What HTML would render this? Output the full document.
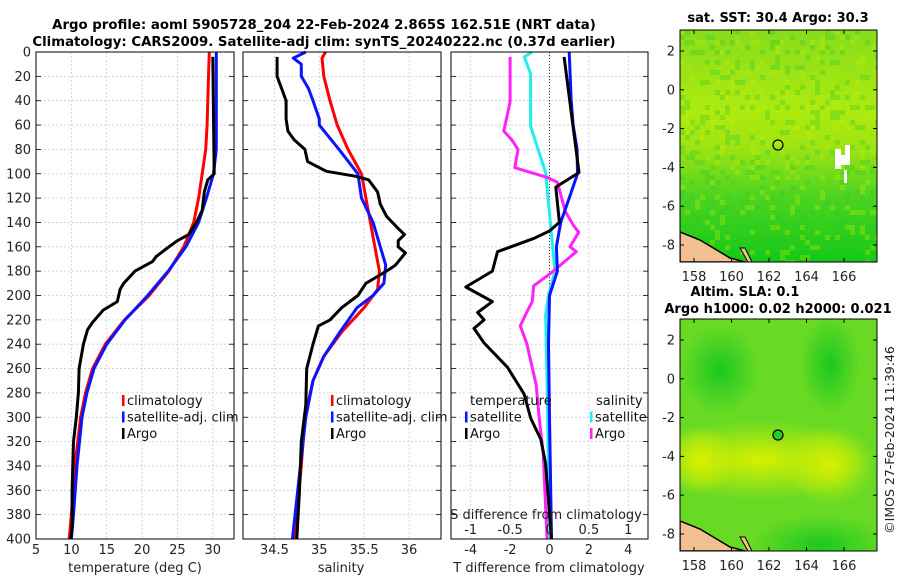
<!DOCTYPE html>
<html><head><meta charset="utf-8"><style>
body{margin:0;background:#fff;width:900px;height:580px;overflow:hidden}
svg{display:block;font-family:"DejaVu Sans","Liberation Sans",sans-serif}
</style></head><body>
<svg id="c" width="900" height="580" viewBox="0 0 900 580">
<defs>
<linearGradient id="sstg" x1="0" y1="0" x2="0" y2="1">
<stop offset="0" stop-color="#86dc1c"/><stop offset="0.35" stop-color="#aeea0e"/><stop offset="0.5" stop-color="#9fe412"/><stop offset="0.72" stop-color="#4cd420"/><stop offset="1" stop-color="#14c818"/></linearGradient>
<radialGradient id="yb"><stop offset="0" stop-color="#d8f000"/><stop offset="1" stop-color="#d8f000" stop-opacity="0"/></radialGradient>
<radialGradient id="gb"><stop offset="0" stop-color="#1cc820"/><stop offset="1" stop-color="#1cc820" stop-opacity="0"/></radialGradient>
<clipPath id="m1c"><rect x="680" y="30" width="197" height="232"/></clipPath>
<clipPath id="m2c"><rect x="680" y="319" width="197" height="232"/></clipPath>
</defs>
<text x="324" y="29" text-anchor="middle" font-size="13.3" font-weight="bold">Argo profile: aoml 5905728_204 22-Feb-2024 2.865S 162.51E (NRT data)</text>
<text x="324" y="46" text-anchor="middle" font-size="13.3" font-weight="bold">Climatology: CARS2009. Satellite-adj clim: synTS_20240222.nc (0.37d earlier)</text>
<g id="plots"></g>
<g>
<text x="778" y="22" text-anchor="middle" font-size="13" font-weight="bold">sat. SST: 30.4 Argo: 30.3</text>
<g clip-path="url(#m1c)">
<rect x="680" y="30" width="197" height="232" fill="url(#sstg)"/>
<g id="m1noise"></g>
<rect x="835" y="149" width="6" height="20" fill="#fff"/><rect x="838" y="155" width="12" height="10" fill="#fff"/><rect x="845" y="145" width="5" height="12" fill="#fff"/><rect x="844" y="170" width="3" height="13" fill="#fff"/>
<path d="M680 232 L700 240 L730 258 L745 262 L680 262Z" fill="#f2c090" stroke="#000" stroke-width="1.5"/>
<path d="M740 248 L748 262 L752 262 L745 248Z" fill="#f2c090" stroke="#000" stroke-width="1"/>
</g>
<rect x="680" y="30" width="197" height="232" fill="none" stroke="#000" stroke-width="1"/>
<circle cx="778" cy="145" r="5" fill="none" stroke="#000" stroke-width="1.2"/>
<g id="m1ax"></g>
</g>
<g>
<text x="745" y="296" text-anchor="middle" font-size="13" font-weight="bold">Altim. SLA: 0.1</text>
<text x="778" y="313" text-anchor="middle" font-size="13" font-weight="bold">Argo h1000: 0.02 h2000: 0.021</text>
<g clip-path="url(#m2c)">
<rect x="680" y="319" width="197" height="232" fill="#68da24"/>
<ellipse cx="760" cy="460" rx="110" ry="40" fill="url(#yb)"/>
<ellipse cx="830" cy="465" rx="45" ry="40" fill="url(#yb)"/>
<ellipse cx="700" cy="460" rx="35" ry="35" fill="url(#yb)"/>
<ellipse cx="720" cy="370" rx="40" ry="45" fill="url(#gb)"/>
<ellipse cx="830" cy="365" rx="30" ry="50" fill="url(#gb)"/>
<ellipse cx="820" cy="545" rx="70" ry="30" fill="url(#gb)"/>
<path d="M680 521 L700 529 L730 547 L745 551 L680 551Z" fill="#f2c090" stroke="#000" stroke-width="1.5"/>
<path d="M740 537 L748 551 L752 551 L745 537Z" fill="#f2c090" stroke="#000" stroke-width="1"/>
</g>
<rect x="680" y="319" width="197" height="232" fill="none" stroke="#000" stroke-width="1"/>
<circle cx="778" cy="435" r="5" fill="#2ccc20" stroke="#000" stroke-width="1.2"/>
<g id="m2ax"></g>
</g>
<text transform="translate(894,440) rotate(-90)" text-anchor="middle" font-size="12.5" fill="#222">©IMOS 27-Feb-2024 11:39:46</text>
</svg>
<script>
// ---------- data ----------
const tClimDepth=[0,20,60,80,100,120,140,160,180,200,220,240,260,280,300,340,380,400];
const tClimVal=[29.5,29.4,29.2,29,28.5,28,27.3,25.9,23.8,21,17.5,14.8,13,12,11.3,10.5,10,9.7];
const tSatDepth=[0,40,80,100,120,140,160,180,200,220,240,260,280,300,340,380,400];
const tSatVal=[30.5,30.5,30.5,30.1,29.1,28,26.2,23.7,20.8,17.6,15,13.2,12.2,11.5,10.8,10.3,10];
const tArgoDepth=[4,100,105,115,130,140,150,155,160,168,172,180,190,195,205,212,222,228,240,260,280,300,320,360,390,400];
const tArgoVal=[30,30.2,29.3,28.8,28.5,27.7,26.6,25,23.8,22,21.5,19,17.4,16.9,16.5,14.5,13,12.3,11.7,11.1,11,10.7,10.3,10.1,10.1,9.9];
const sClimDepth=[0,5,20,40,60,80,100,120,140,160,180,195,210,230,250,270,300,340,380,400];
const sClimVal=[35.07,35.03,35.05,35.12,35.2,35.32,35.47,35.52,35.57,35.62,35.67,35.65,35.5,35.25,35.05,34.93,34.84,34.8,34.75,34.72];
const sSatDepth=[0,5,10,20,30,40,55,60,80,100,120,140,160,175,190,200,210,230,250,270,300,340,400];
const sSatVal=[34.85,34.71,34.8,34.8,34.88,34.93,35.0,35.0,35.22,35.43,35.47,35.6,35.68,35.74,35.72,35.6,35.42,35.23,35.05,34.93,34.85,34.79,34.7];
const sArgoDepth=[4,20,30,40,55,65,72,80,90,95,98,102,105,115,125,135,145,150,155,160,165,175,180,190,200,210,220,225,240,260,290,320,360,400];
const sArgoVal=[34.53,34.53,34.58,34.63,34.63,34.65,34.72,34.84,34.87,35.0,35.08,35.4,35.55,35.65,35.68,35.75,35.88,35.95,35.88,35.88,35.96,35.85,35.75,35.52,35.43,35.25,35.12,34.99,34.93,34.86,34.85,34.8,34.78,34.75];
const dTSatDepth=[0,40,60,80,100,120,140,160,180,200,240,300,400];
const dTSatVal=[1.0,1.1,1.2,1.4,1.42,1.0,0.57,0.35,0.4,0.0,-0.05,0.0,0.1];
const dTArgoDepth=[4,99,111,140,147,153,164,180,193,205,214,220,227,239,259,281,301,318,338,400];
const dTArgoVal=[0.74,1.5,0.32,0.5,0.0,-0.78,-2.64,-2.9,-4.25,-2.9,-3.65,-3.32,-3.83,-3.32,-2.13,-1.29,-0.95,-0.44,-0.2,0.1];
const dSSatDepth=[0,4,18,61,99,140,180,199,216,273,400];
const dSSatVal=[-0.22,-0.32,-0.24,-0.24,-0.05,0.01,0.07,-0.01,-0.05,-0.03,0];
const dSArgoDepth=[4,41,65,72,80,95,103,107,131,143,148,160,164,182,192,205,214,225,239,273,301,330,400];
const dSArgoVal=[-0.5,-0.5,-0.58,-0.48,-0.4,-0.44,-0.03,0.1,0.2,0.31,0.37,0.26,0.34,0.01,-0.2,-0.22,-0.29,-0.37,-0.29,-0.17,-0.13,-0.08,-0.03];
const depthTicks=[0,20,40,60,80,100,120,140,160,180,200,220,240,260,280,300,320,340,360,380,400];
const tTicks=[5,10,15,20,25,30];
const sTicks=[34.5,35,35.5,36];
const dTTicks=[-4,-2,0,2,4];
const dSTicks=[-1,-0.5,0,0.5,1];
const lonTicks=[158,160,162,164,166];
const latTicks=[2,0,-2,-4,-6,-8];

// ---------- drawing ----------
const NS="http://www.w3.org/2000/svg";
const root=document.getElementById('plots');
function mk(tag,attrs,parent){const e=document.createElementNS(NS,tag);for(const k in attrs)e.setAttribute(k,attrs[k]);(parent||root).appendChild(e);return e;}
const Y0=52,Y1=539;
const FS=13;
const yD=d=>Y0+d*(Y1-Y0)/400;
function xs(a,b,x0,x1){return v=>x0+(v-a)*(x1-x0)/(b-a);}
const P1={x0:36,x1:234,sx:xs(5,33,36,234)};
const P2={x0:243,x1:441,sx:xs(34.15,36.3565,243,441)};
const P3={x0:451,x1:648,sx:xs(-5,5,451,648)};
const sxS3=xs(-1.25,1.25,451,648);

function frame(P,xt,sx,name){
  for(const d of depthTicks){
    const l=mk('line',{x1:P.x0,x2:P.x1,y1:yD(d),y2:yD(d),stroke:'#c8cce8','stroke-width':0.8,'stroke-dasharray':'2,2'});
    
    mk('line',{x1:P.x0,x2:P.x0+5,y1:yD(d),y2:yD(d),stroke:'#000','stroke-width':0.8});
    mk('line',{x1:P.x1-5,x2:P.x1,y1:yD(d),y2:yD(d),stroke:'#000','stroke-width':0.8});
  }
  for(const t of xt){
    const x=sx(t);
    const l=mk('line',{x1:x,x2:x,y1:Y0,y2:Y1,stroke:'#c8cce8','stroke-width':0.8,'stroke-dasharray':'2,2'});
    
  }
}
function axisBox(P,name){
  const r=mk('rect',{x:P.x0,y:Y0,width:P.x1-P.x0,height:Y1-Y0,fill:'none',stroke:'#000','stroke-width':1});
  
}
function line(dep,val,sx,color,name,w){
  const pts=dep.map((d,i)=>sx(val[i]).toFixed(1)+','+yD(d).toFixed(1)).join(' ');
  const p=mk('polyline',{points:pts,fill:'none',stroke:color,'stroke-width':w||3,'stroke-linejoin':'round'});
  
}
function txt(x,y,s,attrs,name){const t=mk('text',Object.assign({x:x,y:y,'font-size':FS,fill:'#222'},attrs||{}));t.textContent=s;return t;}
function legend(x,y,items,name){
  items.forEach((it,i)=>{
    const r=mk('rect',{x:x,y:y+i*16.5-10,width:2.5,height:11,fill:it[1]});
    
    txt(x+5,y+i*16.5,it[0],{fill:'#111'},name+'-entry');
  });
}

// panel 1
frame(P1,tTicks,P1.sx,'temp');
line(tClimDepth,tClimVal,P1.sx,'#ff0000','temp-climatology-line');
line(tSatDepth,tSatVal,P1.sx,'#0a14ff','temp-satellite-line');
line(tArgoDepth,tArgoVal,P1.sx,'#000','temp-argo-line');
axisBox(P1,'temp');
depthTicks.forEach(d=>txt(31,yD(d)+4.5,String(d),{'text-anchor':'end'},'depth-tick-label'));
tTicks.forEach(t=>txt(P1.sx(t),554,String(t),{'text-anchor':'middle'},'temp-tick-label'));
txt(135,572,'temperature (deg C)',{'text-anchor':'middle'},'temp-x-axis-title');
legend(122,405,[['climatology','#ff0000'],['satellite-adj. clim','#0a14ff'],['Argo','#000']],'temp-legend');

// panel 2
frame(P2,sTicks,P2.sx,'sal');
line(sClimDepth,sClimVal,P2.sx,'#ff0000','sal-climatology-line');
line(sSatDepth,sSatVal,P2.sx,'#0a14ff','sal-satellite-line');
line(sArgoDepth,sArgoVal,P2.sx,'#000','sal-argo-line');
axisBox(P2,'sal');
sTicks.forEach(t=>txt(P2.sx(t),554,String(t),{'text-anchor':'middle'},'sal-tick-label'));
txt(341,572,'salinity',{'text-anchor':'middle'},'sal-x-axis-title');
legend(331,405,[['climatology','#ff0000'],['satellite-adj. clim','#0a14ff'],['Argo','#000']],'sal-legend');

// panel 3
frame(P3,dTTicks,P3.sx,'diff');
const z=mk('line',{x1:P3.sx(0),x2:P3.sx(0),y1:Y0,y2:Y1,stroke:'#333','stroke-width':1,'stroke-dasharray':'1,2'});

line(dSSatDepth,dSSatVal,sxS3,'#22eeee','sdiff-satellite-line');
line(dSArgoDepth,dSArgoVal,sxS3,'#ff22ff','sdiff-argo-line');
line(dTSatDepth,dTSatVal,P3.sx,'#0a14ff','tdiff-satellite-line');
line(dTArgoDepth,dTArgoVal,P3.sx,'#000','tdiff-argo-line');
axisBox(P3,'diff');
dTTicks.forEach(t=>txt(P3.sx(t),554,String(t),{'text-anchor':'middle'},'tdiff-tick-label'));
dSTicks.forEach(t=>txt(sxS3(t),534,String(t),{'text-anchor':'middle'},'sdiff-tick-label'));
txt(546,519,'S difference from climatology',{'text-anchor':'middle'},'sdiff-axis-title');
txt(549,572,'T difference from climatology',{'text-anchor':'middle'},'tdiff-axis-title');
txt(470,405,'temperature',{fill:'#111'},'diff-legend-temp-header');
txt(596,405,'salinity',{fill:'#111'},'diff-legend-sal-header');
legend(465,421.5,[['satellite','#0a14ff'],['Argo','#000']],'diff-legend-temp');
legend(590,421.5,[['satellite','#22eeee'],['Argo','#ff22ff']],'diff-legend-sal');

// map texture (visual noise, not chart data)
(function(){
  const g=document.getElementById('m1noise');
  let s=7;
  const rnd=()=>{s=(s*16807)%2147483647;return s/2147483647;};
  for(let yy=30;yy<262;yy+=5){for(let xx=680;xx<877;xx+=5){
    const r=rnd(); if(r<0.3){
      const dark=rnd()<0.6;
      mk('rect',{x:xx,y:yy,width:5,height:5,fill:dark?'#30c82a':'#c8f000',opacity:0.3},g);
    }}}
})();

// map axes
const lonX=xs(158,166,694,844);
function mapAxes(id,top,name){
  const g=document.getElementById(id);
  const latY=v=>top+21+(2-v)*19.4;
  lonTicks.forEach(t=>{
    mk('line',{x1:lonX(t),x2:lonX(t),y1:top+232,y2:top+228,stroke:'#000'},g);
    mk('line',{x1:lonX(t),x2:lonX(t),y1:top,y2:top+4,stroke:'#000'},g);
    const e=mk('text',{x:lonX(t),y:top+251,'text-anchor':'middle','font-size':FS,fill:'#222'},g);e.textContent=t;
    
  });
  latTicks.forEach(t=>{
    mk('line',{x1:680,x2:684,y1:latY(t),y2:latY(t),stroke:'#000'},g);
    mk('line',{x1:873,x2:877,y1:latY(t),y2:latY(t),stroke:'#000'},g);
    const e=mk('text',{x:675,y:latY(t)+4.5,'text-anchor':'end','font-size':FS,fill:'#222'},g);e.textContent=t;
    
  });
}
mapAxes('m1ax',30,'sst-map');
mapAxes('m2ax',319,'sla-map');
</script>
</body></html>
